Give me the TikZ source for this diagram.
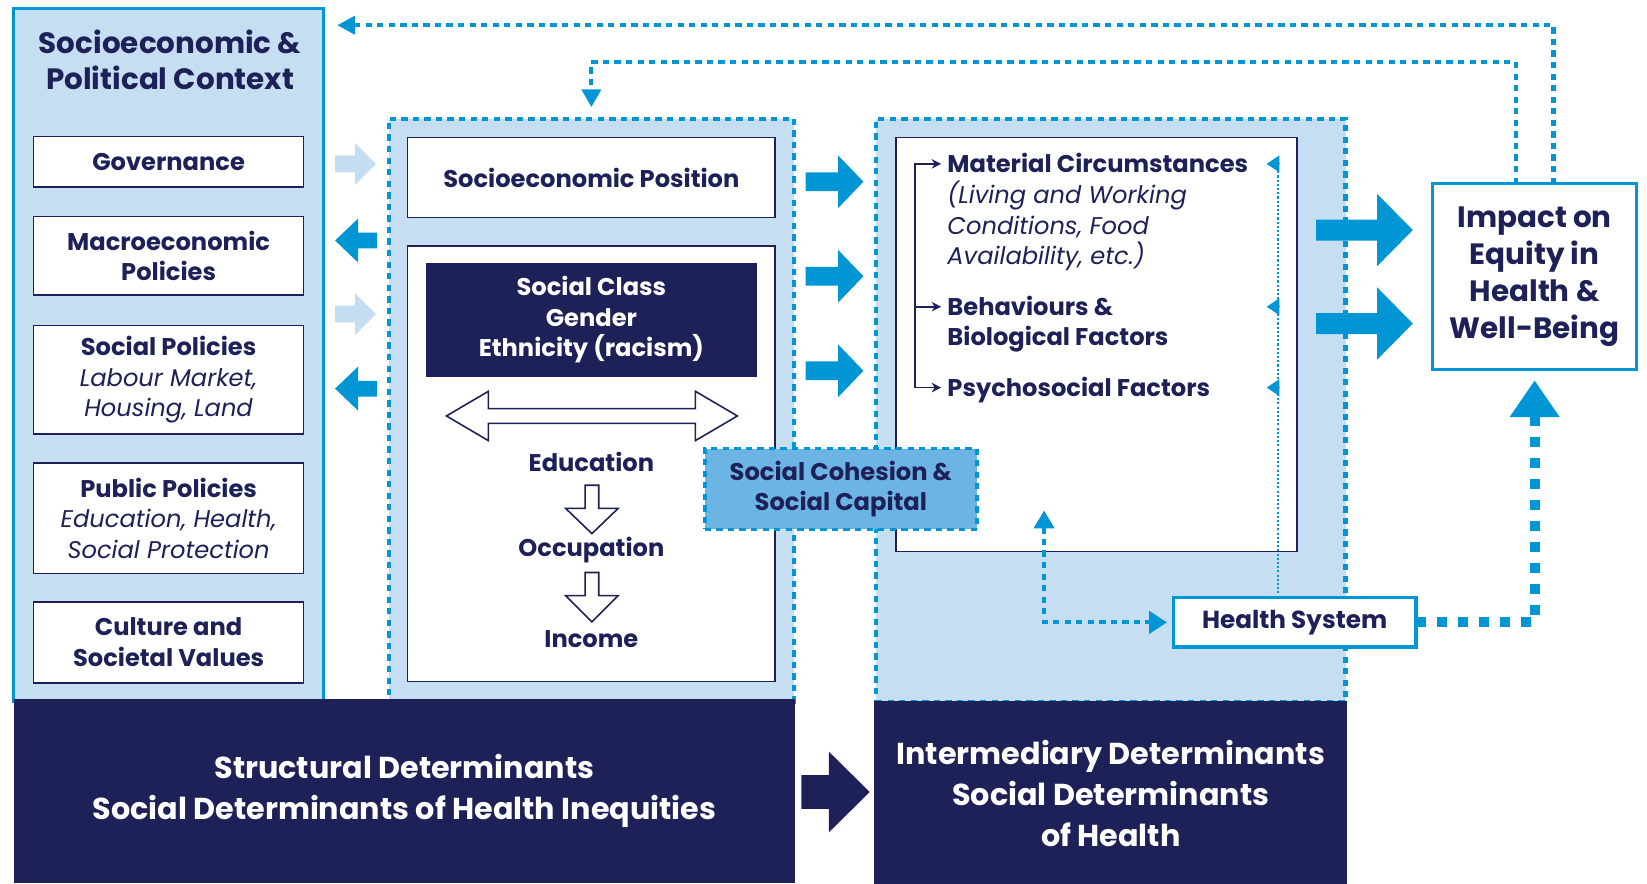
\documentclass[tikz,border=0pt]{standalone}
\usepackage{fontspec}
\setmainfont{Poppins}
\usetikzlibrary{arrows.meta,calc}
\definecolor{navy}{RGB}{29,33,87}
\definecolor{cyanb}{RGB}{0,150,214}
\definecolor{lblue}{RGB}{198,222,241}
\definecolor{larrow}{RGB}{196,221,242}
\definecolor{socblue}{RGB}{108,180,228}
\newcommand\myit[1]{\textmd{\textit{#1}}}
% horizontal block arrow: tail, head base, tip, y, half shaft, half head, style
\newcommand\blkH[7]{\fill[#7] (#1,#4-#5) -- (#2,#4-#5) -- (#2,#4-#6) -- (#3,#4) -- (#2,#4+#6) -- (#2,#4+#5) -- (#1,#4+#5) -- cycle;}
% vertical block arrow: x, top, head base, tip, half shaft, half head, style
\newcommand\blkV[7]{\filldraw[#7] (#1-#5,#2) -- (#1+#5,#2) -- (#1+#5,#3) -- (#1+#6,#3) -- (#1,#4) -- (#1-#6,#3) -- (#1-#5,#3) -- cycle;}
\begin{document}
\begin{tikzpicture}[x=1pt,y=-1pt,
  every node/.style={inner sep=0pt, outer sep=0pt},
  sz/.style 2 args={minimum width=#1pt, minimum height=#2pt},
  ctxpanel/.style={fill=lblue, draw=cyanb, line width=3pt},
  dotpanel/.style={fill=lblue, draw=cyanb, line width=4pt, dash pattern=on 6pt off 5pt},
  wbox/.style={fill=white, draw=navy, line width=1.5pt, align=center, text=navy, font=\fontsize{23}{29}\selectfont\bfseries},
  plain/.style={text=navy, align=center, font=\fontsize{23}{29}\selectfont\bfseries},
  titletext/.style={text=navy, align=center, font=\fontsize{28}{34}\selectfont\bfseries},
  navybox/.style={fill=navy, align=center, text=white, font=\fontsize{28.8}{39}\selectfont\bfseries},
  itemtext/.style={text=navy, anchor=west, align=left, font=\fontsize{23}{29}\selectfont\bfseries},
  oneline/.style={text height=20pt, text depth=4pt},
  cybox/.style={fill=white, draw=cyanb, line width=3pt, align=center, text=navy},
  fbline/.style={draw=cyanb, line width=4pt, dash pattern=on 6pt off 5pt},
  thindot/.style={draw=cyanb, line width=2pt, dash pattern=on 2pt off 2pt},
  thickdot/.style={draw=cyanb, line width=9.5pt, dash pattern=on 9.5pt off 10.5pt},
  brk/.style={draw=navy, line width=1.5pt}]
\useasboundingbox (0,0) rectangle (1568,841);

% ---- context panel
\node[ctxpanel, sz={295}{660}] (ctx) at (160.5,338) {};
\node[titletext] (ctxt) at (162,57) {Socioeconomic \&\\Political Context};
\node[wbox, sz={257}{48}] (gov) at (160.5,154) {Governance};
\node[wbox, sz={257}{75}] (macro) at (160.5,243.5) {Macroeconomic\\Policies};
\node[wbox, sz={257}{103}] (socpol) at (160.5,361.5) {Social Policies\\\myit{Labour Market,}\\\myit{Housing, Land}};
\node[wbox, sz={257}{105}] (pubpol) at (160.5,493.5) {Public Policies\\\myit{Education, Health,}\\\myit{Social Protection}};
\node[wbox, sz={257}{77}] (cult) at (160.5,611.5) {Culture and\\Societal Values};

% ---- arrows between context and structural panel
\blkH{319}{338}{358}{156}{8}{20}{larrow}
\blkH{359}{341}{319}{229}{7.5}{21}{cyanb}
\blkH{319}{338}{358}{299}{8}{20}{larrow}
\blkH{359}{341}{319}{370}{7.5}{21}{cyanb}

% ---- structural panel
\node[dotpanel, sz={386}{555}] (struct) at (563,390.5) {};
\node[wbox, sz={350}{76}] (sep) at (563,169) {Socioeconomic Position};
\node[wbox, sz={350}{415}] (seplow) at (563,441.5) {};
\node[wbox, fill=navy, text=white, sz={314}{107}] (scg) at (563,304.5) {Social Class\\Gender\\Ethnicity (racism)};
\filldraw[fill=white, draw=navy, line width=1.5pt] (425,396) -- (465,372.5) -- (465,389) -- (662,389) -- (662,372.5) -- (702,396) -- (662,419.5) -- (662,403) -- (465,403) -- (465,419.5) -- cycle;
\node[plain] (edu) at (563,440) {Education};
\blkV{563.5}{462}{484}{508}{6.5}{25}{fill=white, draw=navy, line width=1.5pt}
\node[plain] (occ) at (563,524) {Occupation};
\blkV{563.5}{545}{567}{592}{6.5}{25}{fill=white, draw=navy, line width=1.5pt}
\node[plain] (inc) at (563,608) {Income};

% ---- arrows structural -> intermediary
\blkH{767}{798}{822}{173}{9}{25}{cyanb}
\blkH{767}{798}{822}{263}{9}{25}{cyanb}
\blkH{767}{798}{822}{353}{9}{25}{cyanb}

% ---- intermediary panel
\node[dotpanel, sz={447}{555}] (inter) at (1057.5,390.5) {};
\node[wbox, sz={382}{394}] (ibox) at (1044,328) {};
\node[itemtext, oneline] (mat) at (902,156) {Material Circumstances};
\node[itemtext, font=\fontsize{23}{29}\selectfont\mdseries\itshape] (matsub) at (902,215) {(Living and Working\\Conditions, Food\\Availability, etc.)};
\node[itemtext, oneline] (beh) at (902,292) {Behaviours \&};
\node[itemtext, oneline] (beh2) at (902,321) {Biological Factors};
\node[itemtext, oneline] (psy) at (902,369) {Psychosocial Factors};
\coordinate (bx) at (871,156);
\draw[brk, {Stealth[length=9pt,width=9pt]}-{Stealth[length=9pt,width=9pt]}] ([xshift=-6pt]mat.west) -- (bx |- mat.west) -- (bx |- psy.west) -- ([xshift=-6pt]psy.west);
\draw[brk, -{Stealth[length=9pt,width=9pt]}] (bx |- beh.west) -- ([xshift=-6pt]beh.west);

% ---- social cohesion
\node[dotpanel, fill=socblue, line width=3.5pt, sz={259}{77}, text=navy, align=center, font=\fontsize{23}{28}\selectfont\bfseries] (soc) at (800.5,465.5) {Social Cohesion \&\\Social Capital};

% ---- health system
\node[cybox, sz={231}{47}, font=\fontsize{23.5}{29}\selectfont\bfseries] (hs) at (1232.5,592.5) {Health System};
\coordinate (tx) at (1217,156);
\draw[thindot] (tx |- hs.north) -- (tx);
\foreach \n in {mat,beh,psy}
  \draw[cyanb, line width=1pt, -{Triangle[length=12pt,width=16pt]}] ([xshift=1pt]tx |- \n.west) -- ([xshift=-11pt]tx |- \n.west);
\coordinate (hsup) at (994,486);
\draw[fbline, {Triangle[length=17pt,width=19pt]}-{Triangle[length=17pt,width=21pt]}, shorten >=6pt] (hsup) |- (hs.west);

% ---- impact
\node[cybox, sz={194}{177}, font=\fontsize{28}{35}\selectfont\bfseries] (imp) at (1461,263.5) {Impact on\\Equity in\\Health \&\\Well-Being};
\blkH{1253}{1311}{1345}{219}{10}{34.5}{cyanb}
\blkH{1253}{1311}{1345}{308}{10}{34.5}{cyanb}
\draw[thickdot, -{Triangle[length=35pt,width=45pt]}, shorten >=10pt] (hs.east) -| (imp.south);

% ---- feedback loops
\coordinate (fb1) at (1479,24);
\draw[fbline, -{Triangle[length=17pt,width=17pt]}, shorten >=13pt] (imp.north -| fb1) -- (fb1) -- (ctx.east |- fb1);
\coordinate (fb2) at (1443,59);
\draw[fbline, -{Triangle[length=17pt,width=18pt]}, shorten >=11pt] (imp.north -| fb2) -- (fb2) -| (struct.north);

% ---- bottom bands
\node[navybox, sz={744}{176}] (sdet) at (385,753) {Structural Determinants\\Social Determinants of Health Inequities};
\node[navybox, sz={450}{176}] (idet) at (1057.5,755) {Intermediary Determinants\\Social Determinants\\of Health};
\blkH{763}{789}{828}{754}{16}{38.5}{navy}
\end{tikzpicture}
\end{document}
